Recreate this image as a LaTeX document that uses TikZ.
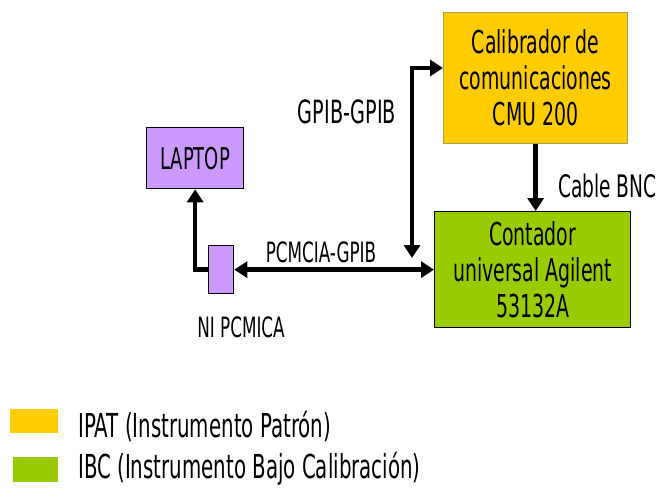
\documentclass[tikz,border=0pt]{standalone}
\usepackage{fontspec}
\setmainfont[FakeStretch=0.6]{DejaVu Sans}
\usetikzlibrary{arrows.meta}
\definecolor{ipat}{HTML}{FFCC00}
\definecolor{ibc}{HTML}{99CC00}
\definecolor{lav}{HTML}{CC99FF}
\definecolor{olivebd}{HTML}{A8A040}
\begin{document}
\begin{tikzpicture}[x=1pt,y=-1pt,
  box/.style={draw, line width=1.3pt, inner sep=0pt, align=center, anchor=north west},
  tip/.tip={Triangle[width=16pt,length=13pt]},
  conn/.style={line width=4.5pt, -tip},
  conn2/.style={line width=4.5pt, tip-tip},
  big/.style={font=\fontsize{31.5}{36}\selectfont},
  lbl/.style={font=\fontsize{28}{30}\selectfont, inner sep=0pt},
  leg/.style={font=\fontsize{33}{35}\selectfont, inner sep=0pt, anchor=west}]
\useasboundingbox (0,0) rectangle (661,488);
\node[box, big, draw=olivebd, fill=ipat, minimum width=184pt, minimum height=131pt] (cal) at (443,12) {Calibrador de\\comunicaciones\\CMU 200};
\node[box, big, fill=ibc, minimum width=196pt, minimum height=116pt] (cont) at (434,211) {Contador\\universal Agilent\\53132A};
\node[box, font=\fontsize{30}{32}\selectfont, fill=lav, minimum width=97pt, minimum height=61pt] (lap) at (146,127) {LAPTOP};
\node[box, fill=lav, minimum width=25pt, minimum height=48pt] (ni) at (208,245) {};
\node[lbl, font=\fontsize{32}{34}\selectfont] (lgpib) at (347,112) {GPIB-GPIB};
\node[lbl, anchor=west, font=\fontsize{31}{33}\selectfont] (lbnc) at (558,186) {Cable BNC};
\node[lbl] (lpc) at (321,252) {PCMCIA-GPIB};
\node[lbl] (lni) at (241,327) {NI PCMICA};
\coordinate (gb) at (412,258);
\draw[conn] (ni.west) -| (lap.south);
\draw[conn2] (ni.east) -- (ni.east -| cont.west);
\draw[conn2] (gb) |- (cal.west |- 0,68);
\draw[conn] (cal.south) -- (cont.north -| cal.south);
\node[fill=ipat, minimum width=48pt, minimum height=24pt, inner sep=0pt, anchor=north west] (sw1) at (10,409) {};
\node[fill=ibc, minimum width=45pt, minimum height=25pt, inner sep=0pt, anchor=north west] (sw2) at (13,457) {};
\node[leg] (t1) at (78,426) {IPAT (Instrumento Patrón)};
\node[leg] (t2) at (78,469) {IBC (Instrumento Bajo Calibración)};
\end{tikzpicture}
\end{document}
